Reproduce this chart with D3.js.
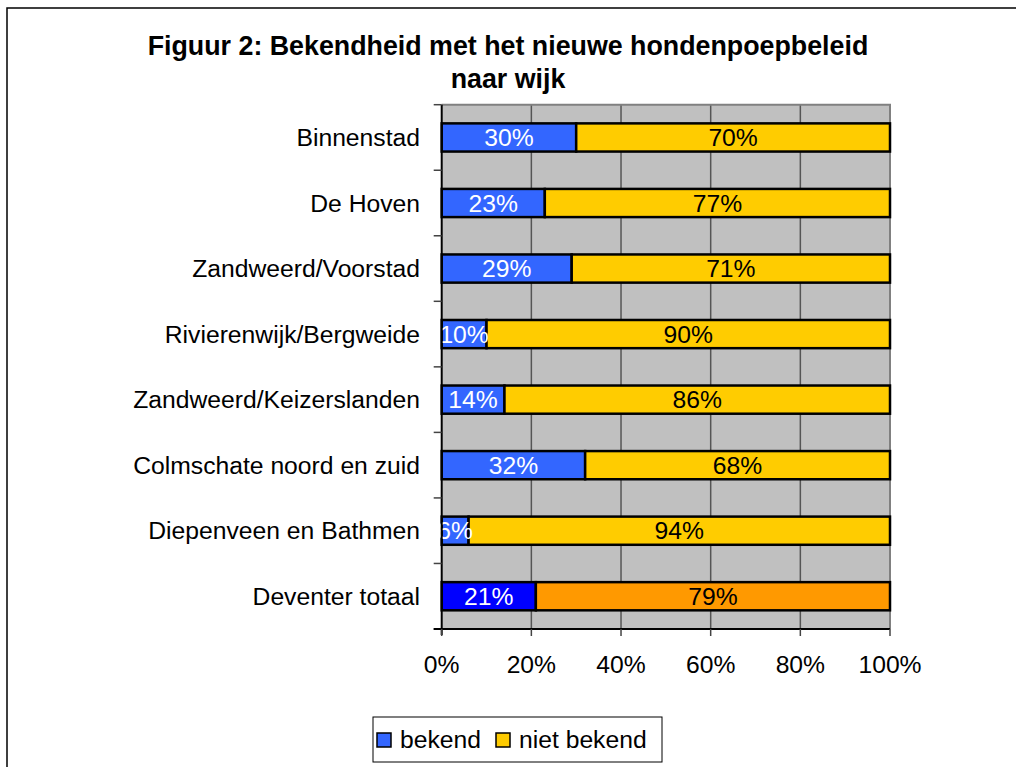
<!DOCTYPE html>
<html><head><meta charset="utf-8">
<script src="https://cdn.jsdelivr.net/npm/d3@7"></script>
<style>body{margin:0;background:#fff}svg{display:block}text{font-family:"Liberation Sans",Arial,sans-serif}</style>
</head><body>
<svg id="c" width="1016" height="767"></svg>
<script>
const categories = ["Binnenstad","De Hoven","Zandweerd/Voorstad","Rivierenwijk/Bergweide","Zandweerd/Keizerslanden","Colmschate noord en zuid","Diepenveen en Bathmen","Deventer totaal"];
const bekend = [30,23,29,10,14,32,6,21];
const nietBekend = [70,77,71,90,86,68,94,79];
const xTicks = [0,20,40,60,80,100];
const seriesNames = ["bekend","niet bekend"];
const titleLines = ["Figuur 2: Bekendheid met het nieuwe hondenpoepbeleid","naar wijk"];

const svg = d3.select("#c");
const L = 441.7, R = 890, T = 104.7, B = 629;
const FS = 24.7;

// outer border
svg.append("rect").attr("x",7).attr("y",8).attr("width",1040).attr("height",800)
  .attr("fill","#fff").attr("stroke","#000").attr("stroke-width",1.5);

// title
svg.append("text").attr("x",508).attr("y",55).attr("text-anchor","middle")
  .attr("font-size",26.8).attr("font-weight","bold").text(titleLines[0]);
svg.append("text").attr("x",508).attr("y",88).attr("text-anchor","middle")
  .attr("font-size",26.8).attr("font-weight","bold").text(titleLines[1]);

const x = d3.scaleLinear().domain([0,100]).range([L,R]);
const y = d3.scaleBand().domain(categories).range([T,B]).paddingInner(0.57).paddingOuter(0.285);
const band = d3.scaleBand().domain(categories).range([T,B]);

// plot background
svg.append("rect").attr("x",L).attr("y",T).attr("width",R-L).attr("height",B-T).attr("fill","#C0C0C0");
// gridlines
svg.selectAll(".grid").data(xTicks.slice(1,-1)).join("line")
  .attr("x1",d=>x(d)).attr("x2",d=>x(d)).attr("y1",T).attr("y2",B)
  .attr("stroke","#555").attr("stroke-width",1.5);
// plot border top/right
svg.append("path").attr("d",`M${L},${T}H${R}V${B}`).attr("fill","none").attr("stroke","#808080").attr("stroke-width",2);

const rows = categories.map((c,i)=>({c,i,a:bekend[i],b:nietBekend[i]}));
const isTotal = d => d.i === categories.length-1;
const g = svg.selectAll(".row").data(rows).join("g");
g.append("rect").attr("x",x(0)).attr("y",d=>y(d.c)).attr("width",d=>x(d.a)-x(0)).attr("height",y.bandwidth())
  .attr("fill",d=>isTotal(d)?"#0000FF":"#3366FF").attr("stroke","#000").attr("stroke-width",2.5);
g.append("rect").attr("x",d=>x(d.a)).attr("y",d=>y(d.c)).attr("width",d=>x(d.a+d.b)-x(d.a)).attr("height",y.bandwidth())
  .attr("fill",d=>isTotal(d)?"#FF9900":"#FFCC00").attr("stroke","#000").attr("stroke-width",2.5);
g.append("text").attr("x",d=>(x(0)+x(d.a))/2).attr("y",d=>y(d.c)+y.bandwidth()/2+8.7)
  .attr("text-anchor","middle").attr("font-size",FS).attr("fill","#fff").text(d=>d.a+"%");
g.append("text").attr("x",d=>(x(d.a)+x(d.a+d.b))/2).attr("y",d=>y(d.c)+y.bandwidth()/2+8.7)
  .attr("text-anchor","middle").attr("font-size",FS).attr("fill","#000").text(d=>d.b+"%");

// y axis
svg.append("line").attr("x1",L).attr("x2",L).attr("y1",T).attr("y2",B+6).attr("stroke","#000").attr("stroke-width",2);
const yTickPos = categories.map(c=>band(c)).concat([B]);
svg.selectAll(".yt").data(yTickPos).join("line")
  .attr("x1",L-8).attr("x2",L).attr("y1",d=>d).attr("y2",d=>d).attr("stroke","#444").attr("stroke-width",1.5);
svg.selectAll(".yl").data(categories).join("text")
  .attr("x",420).attr("y",c=>y(c)+y.bandwidth()/2+8.7).attr("text-anchor","end").attr("font-size",FS).text(c=>c);

// x axis
svg.append("line").attr("x1",L-8).attr("x2",R).attr("y1",B).attr("y2",B).attr("stroke","#000").attr("stroke-width",2);
svg.selectAll(".xt").data(xTicks).join("line")
  .attr("x1",d=>x(d)).attr("x2",d=>x(d)).attr("y1",B).attr("y2",B+7).attr("stroke","#444").attr("stroke-width",1.5);
svg.selectAll(".xl").data(xTicks).join("text")
  .attr("x",d=>x(d)).attr("y",673).attr("text-anchor","middle").attr("font-size",FS).text(d=>d+"%");

// legend
svg.append("rect").attr("x",373).attr("y",717).attr("width",289).attr("height",45)
  .attr("fill","#fff").attr("stroke","#000").attr("stroke-width",1);
const legColors = ["#3366FF","#FFCC00"];
const legX = [377,496];
seriesNames.forEach((n,i)=>{
  svg.append("rect").attr("x",legX[i]).attr("y",733).attr("width",14).attr("height",14)
    .attr("fill",legColors[i]).attr("stroke","#000").attr("stroke-width",1.5);
  svg.append("text").attr("x",legX[i]+23).attr("y",748).attr("font-size",FS).text(n);
});
</script>
</body></html>
